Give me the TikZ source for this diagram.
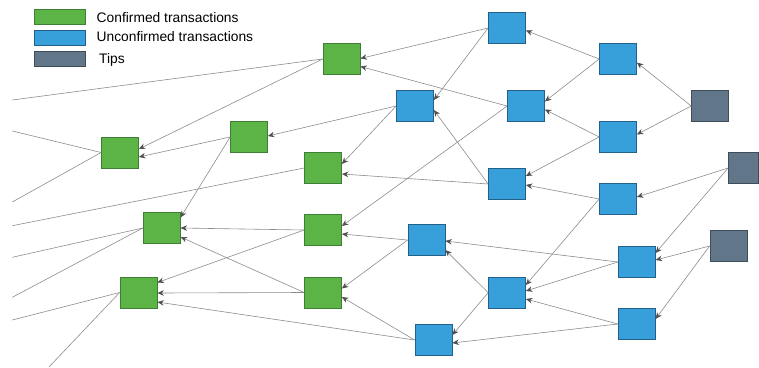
\documentclass[tikz,border=0pt]{standalone}
\usepackage{fontspec}
\setmainfont{Liberation Sans}
\usetikzlibrary{arrows.meta}
\definecolor{confgreen}{HTML}{5DB446}
\definecolor{confedge}{HTML}{3F7F35}
\definecolor{unconfblue}{HTML}{37A0DA}
\definecolor{unconfedge}{HTML}{25608A}
\definecolor{tipgray}{HTML}{627689}
\definecolor{tipedge}{HTML}{3F4C59}
\definecolor{linkgray}{HTML}{8C8C8C}
\definecolor{headgray}{HTML}{4F4F4F}
\begin{document}
\begin{tikzpicture}[x=1pt,y=-1pt,
  tx/.style={rectangle, inner sep=0pt, minimum width=37pt, minimum height=31pt, line width=0.7pt},
  confirmed/.style={tx, fill=confgreen, draw=confedge},
  unconfirmed/.style={tx, fill=unconfblue, draw=unconfedge},
  tip/.style={tx, fill=tipgray, draw=tipedge},
  key/.style={rectangle, inner sep=0pt, minimum width=51pt, minimum height=15.5pt, line width=0.7pt},
  keytext/.style={anchor=base west, inner sep=0pt, font=\fontsize{13.8}{16}\selectfont},
  approve/.style={draw=linkgray, line width=0.6pt, -{Stealth[length=6.5pt,width=5.5pt,color=headgray]}},
  history/.style={draw=linkgray, line width=0.6pt},
]
\useasboundingbox (0,0) rectangle (759,367);

% legend
\node[key, fill=confgreen, draw=confedge] (kc) at (60,17) {};
\node[key, fill=unconfblue, draw=unconfedge] (ku) at (60,38) {};
\node[key, fill=tipgray, draw=tipedge] (kt) at (60,59) {};
\node[keytext] (lc) at (96.5,22) {Confirmed transactions};
\node[keytext] (lu) at (96.5,41.7) {Unconfirmed transactions};
\node[keytext] (lt) at (99,63) {Tips};

% confirmed transactions
\node[confirmed] (G1) at (341.5,59) {};
\node[confirmed] (G2) at (249,137) {};
\node[confirmed] (G3) at (120,152.5) {};
\node[confirmed] (G4) at (323,168) {};
\node[confirmed] (G5) at (161.7,228) {};
\node[confirmed] (G6) at (323,230) {};
\node[confirmed] (G7) at (138.5,292.5) {};
\node[confirmed] (G8) at (323,292.5) {};

% unconfirmed transactions
\node[unconfirmed] (B1) at (507,28) {};
\node[unconfirmed] (B2) at (618,59) {};
\node[unconfirmed] (B3) at (415,106) {};
\node[unconfirmed] (B4) at (526,106) {};
\node[unconfirmed] (B5) at (618,137) {};
\node[unconfirmed] (B6) at (507,184) {};
\node[unconfirmed] (B7) at (618,199) {};
\node[unconfirmed] (B8) at (426.5,240) {};
\node[unconfirmed] (B9) at (636.7,262) {};
\node[unconfirmed] (B10) at (507,292.7) {};
\node[unconfirmed] (B11) at (636.7,324) {};
\node[unconfirmed] (B12) at (433.5,340) {};

% tips
\node[tip] (T1) at (710,106) {};
\node[tip, minimum width=30pt] (T2) at (743.5,168) {};
\node[tip] (T3) at (728.5,246) {};

% older history running off the left edge
\coordinate (h1) at (12.3,100);
\coordinate (h2) at (12.3,131);
\coordinate (h3) at (12.3,202);
\coordinate (h4) at (12.3,225.7);
\coordinate (h5) at (12.3,257.3);
\coordinate (h6) at (12.3,297.3);
\coordinate (h7) at (12.3,320);
\coordinate (h8) at (49,367);
\draw[history] (G1.west) -- (h1);
\draw[history] (G3.west) -- (h2);
\draw[history] (G3.west) -- (h3);
\draw[history] (G4.west) -- (h4);
\draw[history] (G5.west) -- (h5);
\draw[history] (G5.west) -- (h6);
\draw[history] (G7.west) -- (h7);
\draw[history] (G7.west) -- (h8);

% approvals among confirmed transactions
\draw[approve] (B1.west) -- (G1.east |- 0,58.5);
\draw[approve] (B4.west) -- (G1.east |- 0,66.5);
\draw[approve] (G1.west) -- (G3.east |- 0,149);
\draw[approve] (G2.west) -- (G3.east |- 0,157);
\draw[approve] (B3.west) -- (G2.east |- 0,136);
\draw[approve] (B3.west) -- (G4.east |- 0,164);
\draw[approve] (B6.west) -- (G4.east |- 0,174);
\draw[approve] (G2.west) -- (G5.east |- 0,217.5);
\draw[approve] (G6.west) -- (G5.east |- 0,228);
\draw[approve] (G8.west) -- (G5.east |- 0,237);
\draw[approve] (B4.west) -- (G6.east |- 0,226);
\draw[approve] (B8.west) -- (G6.east |- 0,234);
\draw[approve] (G6.west) -- (G7.east |- 0,282.5);
\draw[approve] (G8.west) -- (G7.east |- 0,293);
\draw[approve] (B12.west) -- (G7.east |- 0,302);
\draw[approve] (B8.west) -- (G8.east |- 0,288.5);
\draw[approve] (B12.west) -- (G8.east |- 0,297);

% approvals among unconfirmed transactions
\draw[approve] (B2.west) -- (B1.east |- 0,30.5);
\draw[approve] (B1.west) -- (B3.east |- 0,100);
\draw[approve] (B6.west) -- (B3.east |- 0,110);
\draw[approve] (B2.west) -- (B4.east |- 0,101.5);
\draw[approve] (B5.west) -- (B4.east |- 0,109.5);
\draw[approve] (T1.west) -- (B2.east |- 0,62.5);
\draw[approve] (T1.west) -- (B5.east |- 0,134.5);
\draw[approve] (B5.west) -- (B6.east |- 0,176);
\draw[approve] (B7.west) -- (B6.east |- 0,185);
\draw[approve] (T2.west) -- (B7.east |- 0,197);
\draw[approve] (B9.west) -- (B8.east |- 0,241);
\draw[approve] (B10.west) -- (B8.east |- 0,250);
\draw[approve] (T2.west) -- (B9.east |- 0,253);
\draw[approve] (T3.west) -- (B9.east |- 0,260);
\draw[approve] (B7.west) -- (B10.east |- 0,285);
\draw[approve] (B9.west) -- (B10.east |- 0,291);
\draw[approve] (B11.west) -- (B10.east |- 0,299);
\draw[approve] (T3.west) -- (B11.east |- 0,319);
\draw[approve] (B10.west) -- (B12.east |- 0,335);
\draw[approve] (B11.west) -- (B12.east |- 0,343);
\end{tikzpicture}
\end{document}
